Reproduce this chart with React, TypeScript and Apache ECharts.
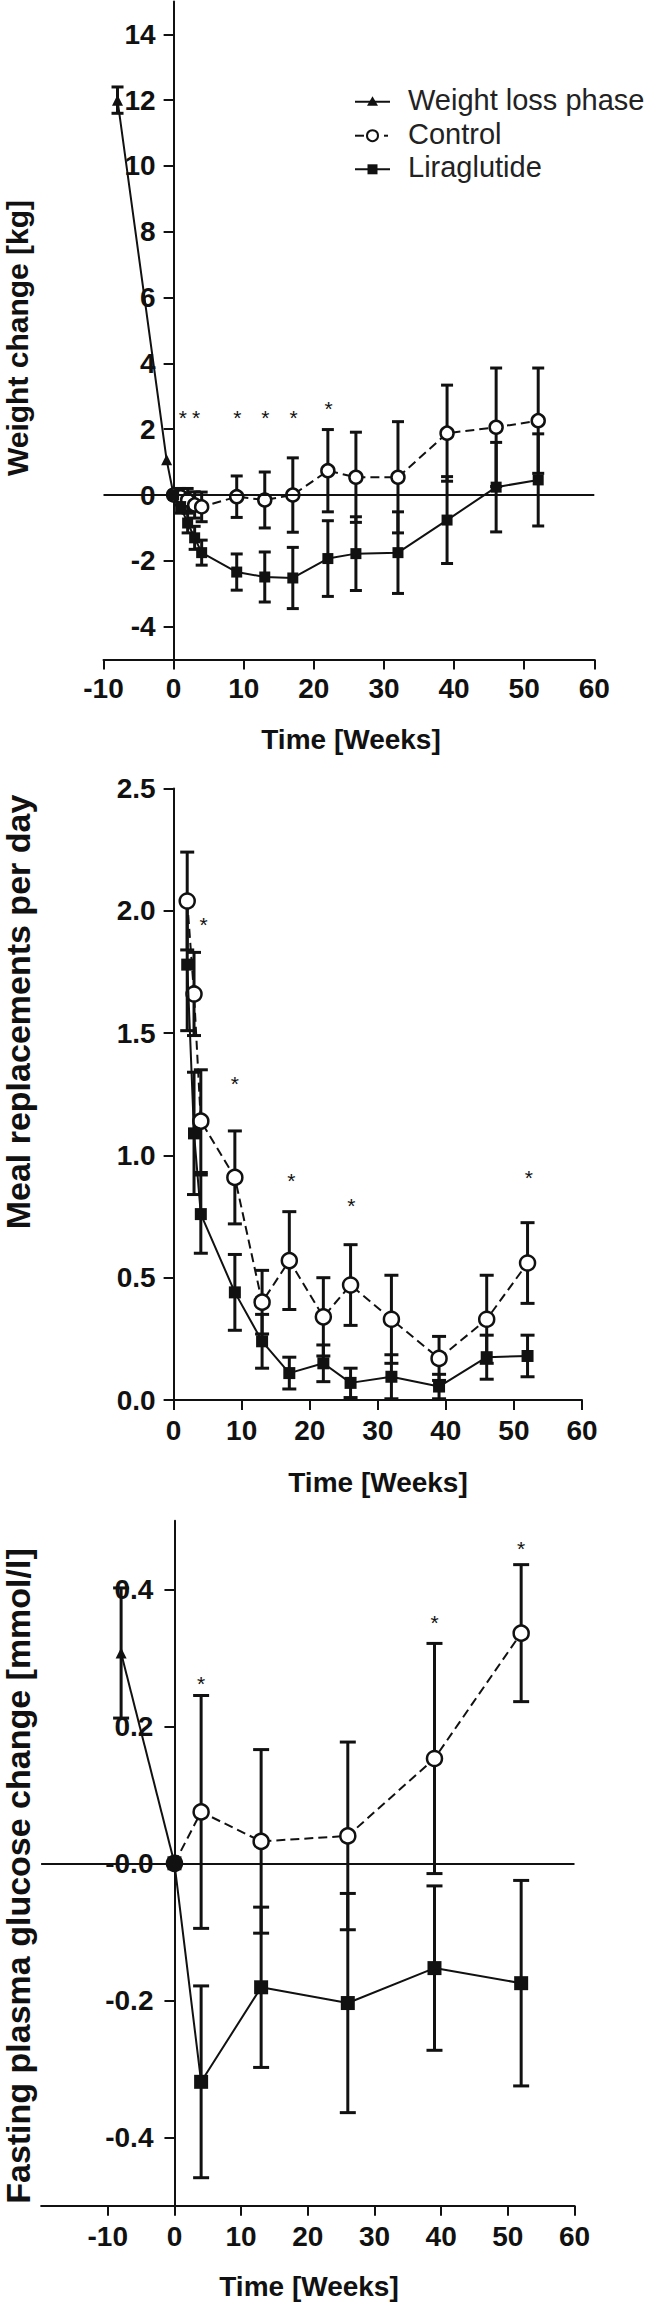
import React, { useEffect, useRef } from "react";
import * as echarts from "echarts";

const FONT = '"Liberation Sans", Arial, Helvetica, sans-serif';
const INK = "#111";

// ---------- Panel 1: weight change ----------
const weightLossWeeks = [-8, -1, 0];
const weightLossVals = [12, 1.07, 0];
const weightLossErr = [0.4, 0, 0];

const weightWeeks = [0, 1, 2, 3, 4, 9, 13, 17, 22, 26, 32, 39, 46, 52];
const weightControl = [0, -0.05, -0.15, -0.3, -0.36, -0.05, -0.15, 0.0, 0.74, 0.54, 0.54, 1.88, 2.06, 2.26];
const weightControlErr = [0, 0.25, 0.35, 0.4, 0.45, 0.63, 0.85, 1.13, 1.25, 1.37, 1.69, 1.46, 1.8, 1.6];
const weightLira = [0, -0.35, -0.85, -1.3, -1.75, -2.34, -2.49, -2.52, -1.93, -1.78, -1.75, -0.76, 0.24, 0.46];
const weightLiraErr = [0, 0.2, 0.3, 0.35, 0.38, 0.55, 0.76, 0.93, 1.15, 1.12, 1.24, 1.32, 1.36, 1.4];
const weightStarX = [1.3, 3.2, 9.1, 13.1, 17.1, 22.1];
const weightStarY = [2.48, 2.48, 2.48, 2.48, 2.48, 2.74];
const weightYTicks = [-4, -2, 0, 2, 4, 6, 8, 10, 12, 14];

// ---------- Panel 2: meal replacements ----------
const mealWeeks = [2, 3, 4, 9, 13, 17, 22, 26, 32, 39, 46, 52];
const mealControl = [2.04, 1.66, 1.14, 0.91, 0.4, 0.57, 0.34, 0.47, 0.33, 0.17, 0.33, 0.56];
const mealControlErr = [0.2, 0.17, 0.21, 0.19, 0.13, 0.2, 0.16, 0.165, 0.18, 0.09, 0.18, 0.165];
const mealLira = [1.78, 1.09, 0.76, 0.44, 0.24, 0.11, 0.15, 0.07, 0.095, 0.055, 0.175, 0.18];
const mealLiraErr = [0.27, 0.25, 0.16, 0.155, 0.11, 0.065, 0.075, 0.06, 0.09, 0.05, 0.09, 0.085];
const mealStarX = [4.4, 9.0, 17.3, 26.1, 52.2];
const mealStarY = [1.96, 1.31, 0.913, 0.81, 0.927];

// ---------- Panel 3: fasting plasma glucose ----------
const fastLossWeeks = [-8, 0];
const fastLossVals = [0.307, 0];
const fastLossErr = [0.095, 0];
const fastWeeks = [0, 4, 13, 26, 39, 52];
const fastControl = [0, 0.075, 0.032, 0.04, 0.153, 0.336];
const fastControlErr = [0, 0.17, 0.134, 0.137, 0.168, 0.1];
const fastLira = [0, -0.319, -0.181, -0.204, -0.153, -0.175];
const fastLiraErr = [0, 0.14, 0.117, 0.16, 0.12, 0.15];
const fastStarX = [4, 39, 52];
const fastStarY = [0.268, 0.358, 0.465];
const fastYTicks = [-0.4, -0.2, 0, 0.2, 0.4];
const fastXTicks = [-10, 0, 10, 20, 30, 40, 50, 60];

const legendNames = ["Weight loss phase", "Control", "Liraglutide"];

function pairs(xs: number[], ys: number[]) {
  return xs.map((x, i) => [x, ys[i]]);
}

function errSeries(idx: number, xs: number[], ys: number[], es: number[], cap: number, lw: number) {
  return {
    type: "custom",
    xAxisIndex: idx,
    yAxisIndex: idx,
    silent: true,
    z: 1,
    data: xs
      .map((x, i) => [x, ys[i] - es[i], ys[i] + es[i]])
      .filter((d) => d[2] > d[1]),
    encode: { x: 0, y: [1, 2] },
    renderItem: (params: any, api: any) => {
      const x = api.value(0);
      const lo = api.coord([x, api.value(1)]);
      const hi = api.coord([x, api.value(2)]);
      const style = { stroke: INK, lineWidth: lw };
      return {
        type: "group",
        children: [
          { type: "line", shape: { x1: lo[0], y1: lo[1], x2: hi[0], y2: hi[1] }, style },
          { type: "line", shape: { x1: lo[0] - cap, y1: lo[1], x2: lo[0] + cap, y2: lo[1] }, style },
          { type: "line", shape: { x1: hi[0] - cap, y1: hi[1], x2: hi[0] + cap, y2: hi[1] }, style },
        ],
      };
    },
  };
}

function starSeries(idx: number, xs: number[], ys: number[]) {
  return {
    type: "custom",
    xAxisIndex: idx,
    yAxisIndex: idx,
    silent: true,
    z: 1,
    data: pairs(xs, ys),
    renderItem: (params: any, api: any) => {
      const p = api.coord([api.value(0), api.value(1)]);
      return {
        type: "text",
        x: p[0],
        y: p[1] + 4,
        style: {
          text: "*",
          fontSize: 21,
          fontFamily: FONT,
          fill: INK,
          textAlign: "center",
          textVerticalAlign: "middle",
        },
      };
    },
  };
}

function controlSeries(idx: number, xs: number[], ys: number[], size: number) {
  return {
    name: legendNames[1],
    type: "line",
    xAxisIndex: idx,
    yAxisIndex: idx,
    data: pairs(xs, ys),
    symbol: "circle",
    symbolSize: size,
    z: 3,
    itemStyle: { color: "#fff", borderColor: INK, borderWidth: 2.5 },
    lineStyle: { color: INK, width: 2, type: [9, 5] },
  };
}

function liraSeries(idx: number, xs: number[], ys: number[], size: number) {
  return {
    name: legendNames[2],
    type: "line",
    xAxisIndex: idx,
    yAxisIndex: idx,
    data: pairs(xs, ys),
    symbol: "rect",
    symbolSize: size,
    z: 4,
    itemStyle: { color: INK },
    lineStyle: { color: INK, width: 2 },
  };
}

function lossSeries(idx: number, xs: number[], ys: number[]) {
  return {
    name: legendNames[0],
    type: "line",
    xAxisIndex: idx,
    yAxisIndex: idx,
    data: pairs(xs, ys),
    symbol: "triangle",
    symbolSize: 11,
    z: 3,
    itemStyle: { color: INK },
    lineStyle: { color: INK, width: 2 },
    markLine: {
      silent: true,
      symbol: "none",
      label: { show: false },
      lineStyle: { color: INK, width: 2, type: "solid" },
      data: [{ yAxis: 0 }],
    },
  };
}

const labelStyle = {
  color: INK,
  fontSize: 28,
  fontWeight: "bold",
  fontFamily: FONT,
};
const lineStyle = { color: INK, width: 2 };

function titleText(text: string, x: number, y: number, size: number, rotate: boolean) {
  return {
    type: "text",
    x,
    y,
    rotation: rotate ? Math.PI / 2 : 0,
    style: {
      text,
      fontSize: size,
      fontWeight: "bold",
      fontFamily: FONT,
      fill: INK,
      textAlign: "center",
      textVerticalAlign: "middle",
    },
  };
}

export default function App() {
  const ref = useRef<HTMLDivElement>(null);

  useEffect(() => {
    document.body.style.margin = "0";
    if (!ref.current) return;
    const chart = echarts.init(ref.current, null, { renderer: "svg" });

    const legendRows = [101.7, 135.7, 169.3];
    const lx1 = 355;
    const lx2 = 390;
    const lmid = 372.5;

    const g1 = { left: 103.5, top: 1.4, width: 490.8, height: 658.2 };
    const g2 = { left: 173.6, top: 788.5, width: 408.4, height: 611.5 };
    const g3 = { left: 41.1, top: 1520.8, width: 533.4, height: 685 };
    // y axes sit at week 0
    const off1 = -(g1.width * 10) / 70;
    const off3 = -(g3.width * 20) / 80;

    const option: any = {
      animation: false,
      backgroundColor: "#fff",
      grid: [
        { ...g1, outerBoundsMode: "none" },
        { ...g2, outerBoundsMode: "none" },
        { ...g3, outerBoundsMode: "none" },
      ],
      xAxis: [
        {
          gridIndex: 0,
          type: "value",
          min: -10,
          max: 60,
          interval: 10,
          axisLine: { onZero: false, lineStyle },
          axisTick: { length: 10, lineStyle },
          axisLabel: { ...labelStyle, margin: 15 },
          splitLine: { show: false },
        },
        {
          gridIndex: 1,
          type: "value",
          min: 0,
          max: 60,
          interval: 10,
          axisLine: { onZero: false, lineStyle },
          axisTick: { length: 10, lineStyle },
          axisLabel: { ...labelStyle, margin: 16 },
          splitLine: { show: false },
        },
        {
          gridIndex: 2,
          type: "value",
          min: -20,
          max: 60,
          axisLine: { onZero: false, lineStyle },
          axisTick: { length: 10, lineStyle, customValues: fastXTicks },
          axisLabel: { ...labelStyle, margin: 17, customValues: fastXTicks },
          splitLine: { show: false },
        },
      ],
      yAxis: [
        {
          gridIndex: 0,
          type: "value",
          min: -5,
          max: 15,
          offset: off1,
          axisLine: { onZero: false, lineStyle },
          axisTick: { length: 10, lineStyle, customValues: weightYTicks },
          axisLabel: { ...labelStyle, margin: 18, customValues: weightYTicks },
          splitLine: { show: false },
        },
        {
          gridIndex: 1,
          type: "value",
          min: 0,
          max: 2.5,
          interval: 0.5,
          axisLine: { onZero: false, lineStyle },
          axisTick: { length: 10, lineStyle },
          axisLabel: { ...labelStyle, margin: 18, formatter: (v: number) => v.toFixed(1) },
          splitLine: { show: false },
        },
        {
          gridIndex: 2,
          type: "value",
          min: -0.5,
          max: 0.5,
          offset: off3,
          axisLine: { onZero: false, lineStyle },
          axisTick: { length: 10, lineStyle, customValues: fastYTicks },
          axisLabel: {
            ...labelStyle,
            margin: 21,
            customValues: fastYTicks,
            formatter: (v: number) => (Math.abs(v) < 1e-9 ? "-0.0" : v.toFixed(1)),
          },
          splitLine: { show: false },
        },
      ],
      series: [
        // panel 1
        errSeries(0, weightLossWeeks, weightLossVals, weightLossErr, 6, 3),
        errSeries(0, weightWeeks, weightControl, weightControlErr, 6, 3),
        errSeries(0, weightWeeks, weightLira, weightLiraErr, 6, 3),
        lossSeries(0, weightLossWeeks, weightLossVals),
        controlSeries(0, weightWeeks, weightControl, 13),
        liraSeries(0, weightWeeks, weightLira, 11),
        starSeries(0, weightStarX, weightStarY),
        // panel 2
        errSeries(1, mealWeeks, mealControl, mealControlErr, 7, 3),
        errSeries(1, mealWeeks, mealLira, mealLiraErr, 7, 3),
        controlSeries(1, mealWeeks, mealControl, 15),
        liraSeries(1, mealWeeks, mealLira, 12),
        starSeries(1, mealStarX, mealStarY),
        // panel 3
        errSeries(2, fastLossWeeks, fastLossVals, fastLossErr, 8, 3),
        errSeries(2, fastWeeks, fastControl, fastControlErr, 8, 3),
        errSeries(2, fastWeeks, fastLira, fastLiraErr, 8, 3),
        lossSeries(2, fastLossWeeks, fastLossVals),
        controlSeries(2, fastWeeks, fastControl, 15),
        liraSeries(2, fastWeeks, fastLira, 14),
        starSeries(2, fastStarX, fastStarY),
      ],
      graphic: [
        // axis titles
        titleText("Time [Weeks]", 351, 739, 28, false),
        titleText("Time [Weeks]", 378, 1482, 28, false),
        titleText("Time [Weeks]", 309, 2286, 28, false),
        titleText("Weight change [kg]", 17, 338, 30, true),
        titleText("Meal replacements per day", 18, 1012, 34, true),
        titleText("Fasting plasma glucose change [mmol/l]", 18, 1876, 34, true),
        // legend symbols
        { type: "line", shape: { x1: lx1, y1: legendRows[0], x2: lx2, y2: legendRows[0] }, style: { stroke: INK, lineWidth: 2 } },
        {
          type: "polygon",
          shape: { points: [[lmid, legendRows[0] - 5.5], [lmid - 5.5, legendRows[0] + 4], [lmid + 5.5, legendRows[0] + 4]] },
          style: { fill: INK },
        },
        { type: "line", shape: { x1: lx1, y1: legendRows[1], x2: lx1 + 9, y2: legendRows[1] }, style: { stroke: INK, lineWidth: 2 } },
        { type: "line", shape: { x1: lx2 - 6, y1: legendRows[1], x2: lx2 - 2, y2: legendRows[1] }, style: { stroke: INK, lineWidth: 2 } },
        { type: "circle", shape: { cx: lmid, cy: legendRows[1], r: 5.5 }, style: { fill: "#fff", stroke: INK, lineWidth: 2 } },
        { type: "line", shape: { x1: lx1, y1: legendRows[2], x2: lx2, y2: legendRows[2] }, style: { stroke: INK, lineWidth: 2 } },
        { type: "rect", shape: { x: lmid - 5, y: legendRows[2] - 5, width: 10, height: 10 }, style: { fill: INK } },
        // legend texts
        ...legendNames.map((name, i) => ({
          type: "text",
          x: 408,
          y: legendRows[i] - 2,
          style: {
            text: name,
            fontSize: 29,
            fontFamily: FONT,
            fill: "#222",
            textAlign: "left",
            textVerticalAlign: "middle",
          },
        })),
      ],
    };

    chart.setOption(option);
    return () => chart.dispose();
  }, []);

  return <div ref={ref} style={{ width: 648, height: 2302 }} />;
}
